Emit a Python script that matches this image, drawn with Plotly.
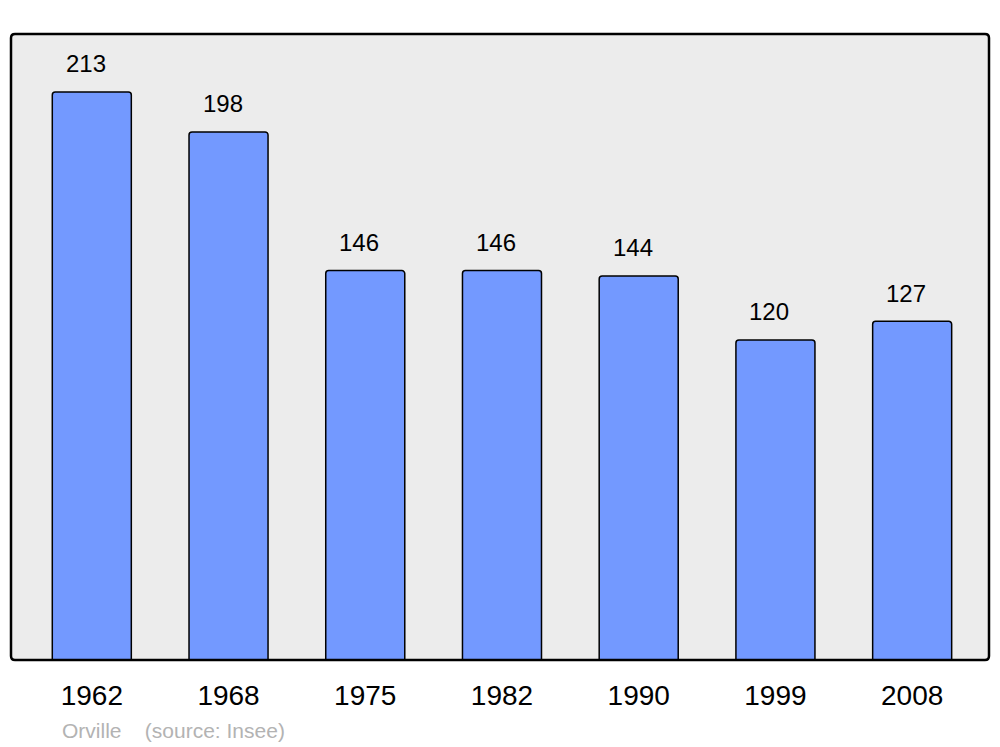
import plotly.graph_objects as go

years = ["1962", "1968", "1975", "1982", "1990", "1999", "2008"]
population = [213, 198, 146, 146, 144, 120, 127]

idx = list(range(len(years)))
FONT = "Liberation Sans, Arial, sans-serif"

fig = go.Figure()
fig.add_trace(go.Bar(
    x=idx, y=population, width=0.578,
    marker=dict(color="#7399ff", line=dict(color="black", width=1.5), cornerradius=3),
    hoverinfo="skip",
))

for i, v in zip(idx, population):
    fig.add_annotation(x=i, y=v, text=str(v), showarrow=False, xshift=-6, yshift=28,
                       yanchor="middle", font=dict(family=FONT, size=24, color="black"))

fig.add_annotation(xref="paper", yref="paper", x=(60 - 11) / 978, y=-(730 - 660) / 626,
                   xanchor="left", yanchor="middle", showarrow=False,
                   text="Orville &nbsp;&nbsp; (source: Insee)",
                   font=dict(family=FONT, size=21, color="#b3b3b3"))

rx, ry = 4 / 978, 4 / 626
path = (f"M {rx},0 L {1-rx},0 Q 1,0 1,{ry} L 1,{1-ry} Q 1,1 {1-rx},1 "
        f"L {rx},1 Q 0,1 0,{1-ry} L 0,{ry} Q 0,0 {rx},0 Z")
fig.add_shape(type="path", xref="paper", yref="paper", path=path,
              line=dict(color="black", width=2.5), layer="above")

fig.update_layout(
    width=1000, height=747,
    margin=dict(l=11, r=11, t=34, b=87),
    paper_bgcolor="white", plot_bgcolor="#ececec",
    showlegend=False,
    xaxis=dict(range=[-0.591, 6.562], tickvals=idx, ticktext=years, showgrid=False, zeroline=False,
               ticks="outside", ticklen=10, tickcolor="rgba(0,0,0,0)",
               tickfont=dict(family=FONT, size=28, color="black"), fixedrange=True),
    yaxis=dict(range=[0, 234.7], showgrid=False, zeroline=False, showticklabels=False, fixedrange=True),
)

fig.write_html("out.html", config={"displayModeBar": False},
               post_script="document.body.style.margin='0';")
